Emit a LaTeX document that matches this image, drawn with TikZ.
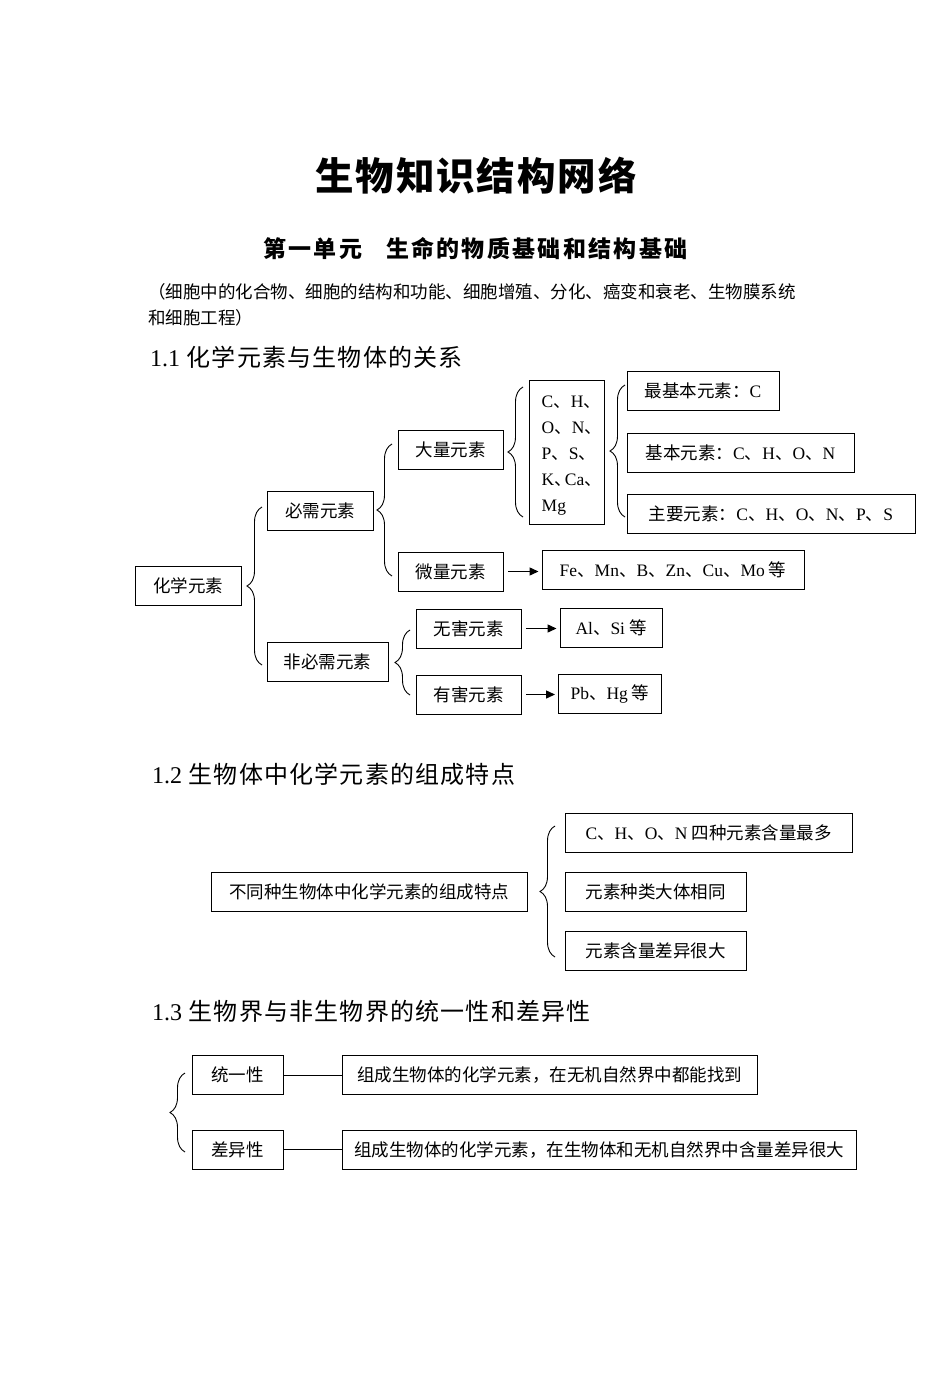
\documentclass[tikz,border=0pt]{standalone}
\usepackage{fontspec}
\setmainfont{Noto Sans CJK SC}
\newfontfamily\latf{Liberation Serif}
\newcommand\latn[1]{{\latf #1}}
\usetikzlibrary{arrows.meta,decorations.pathreplacing}
\tikzset{
  bx/.style={draw, line width=1pt, inner sep=0pt, minimum height=39pt,
    font=\fontsize{17.5}{21}\selectfont, anchor=center},
  arr/.style={line width=1.4pt, -{Triangle[length=9pt,width=8pt]},
    shorten <=4.5pt, shorten >=3pt},
  link/.style={line width=1pt},
  brc/.style={line width=0.9pt, decorate, decoration={brace, amplitude=15pt}},
  head/.style={anchor=west, inner sep=0pt,
    font=\fontsize{24}{28}\selectfont\addfontfeatures{LetterSpace=5}},
  plain/.style={inner sep=0pt},
}
\begin{document}
\begin{tikzpicture}[x=1pt,y=-1pt]
\useasboundingbox (0,0) rectangle (950,1378);

% titles
\node[plain, font=\fontsize{38.5}{40}\selectfont\bfseries\addfontfeatures{LetterSpace=5}] (title) at (476,176) {生物知识结构网络};
\node[plain, anchor=west, font=\fontsize{23}{26}\selectfont\bfseries\addfontfeatures{LetterSpace=10}] (sub) at (263,249) {第一单元\hspace{24pt}生命的物质基础和结构基础};
\node[plain, anchor=west, align=left, font=\fontsize{17.5}{26.5}\selectfont] (intro) at (148,305)
  {（细胞中的化合物、细胞的结构和功能、细胞增殖、分化、癌变和衰老、生物膜系统\\和细胞工程）};

% ---------- 1.1 ----------
\node[head] (h1) at (150,357) {\latn{1.1} 化学元素与生物体的关系};

\node[bx, minimum width=106pt] (hx) at (188,585.5) {化学元素};
\node[bx, minimum width=106pt] (bxy) at (320,510.5) {必需元素};
\node[bx, minimum width=121pt] (fbx) at (327.5,661.5) {非必需元素};
\node[bx, minimum width=105pt] (dl) at (450.5,449.5) {大量元素};
\node[bx, minimum width=105pt] (wl) at (450.5,571.5) {微量元素};
\node[bx, minimum width=105pt] (wh) at (468.5,628.5) {无害元素};
\node[bx, minimum width=105pt] (yh) at (468.5,694.5) {有害元素};
\node[bx, minimum width=75pt, minimum height=144pt] (chon) at (566.5,452) {};
\node[plain, anchor=west, align=left, font=\fontsize{17.5}{25.8}\selectfont] (chont) at (541.5,455.5)
  {\latn{C}、\latn{H}、\\\latn{O}、\latn{N}、\\\latn{P}、\latn{S}、\\\latn{K}、\hspace{-7pt}\latn{Ca}、\\\latn{Mg}};
\node[bx, minimum width=152pt] (zj) at (703,390.5) {最基本元素：\latn{C}};
\node[bx, minimum width=227pt] (jb) at (740.5,452.5) {基本元素：\latn{C}、\latn{H}、\latn{O}、\latn{N}};
\node[bx, minimum width=288pt] (zy) at (771,513.5) {主要元素：\latn{C}、\latn{H}、\latn{O}、\latn{N}、\latn{P}、\latn{S}};
\node[bx, minimum width=262pt] (fe) at (673,569.5) {\latn{Fe}、\latn{Mn}、\latn{B}、\latn{Zn}、\latn{Cu}、\latn{Mo} 等};
\node[bx, minimum width=102pt] (alsi) at (611,627.5) {\latn{Al}、\latn{Si} 等};
\node[bx, minimum width=103pt] (pbhg) at (610,694) {\latn{Pb}、\latn{Hg} 等};

\draw[brc] (262,665) -- (262,507);
\draw[brc] (392,576) -- (392,444);
\draw[brc] (523,517) -- (523,387);
\draw[brc] (625,517) -- (625,385);
\draw[brc] (410,695) -- (410,630);

\draw[arr] (wl.east) -- (wl.east -| fe.west);
\draw[arr] (wh.east) -- (wh.east -| alsi.west);
\draw[arr] (yh.east) -- (yh.east -| pbhg.west);

% ---------- 1.2 ----------
\node[head] (h2) at (152,774) {\latn{1.2} 生物体中化学元素的组成特点};

\node[bx, minimum width=316pt] (td) at (369,891.5) {不同种生物体中化学元素的组成特点};
\node[bx, minimum width=287pt] (c1) at (708.5,832.5) {\latn{C}、\latn{H}、\latn{O}、\latn{N} 四种元素含量最多};
\node[bx, minimum width=181pt] (c2) at (655.5,891.5) {元素种类大体相同};
\node[bx, minimum width=181pt] (c3) at (655.5,950.5) {元素含量差异很大};
\draw[brc] (555,957) -- (555,826);

% ---------- 1.3 ----------
\node[head] (h3) at (152,1011) {\latn{1.3} 生物界与非生物界的统一性和差异性};

\node[bx, minimum width=91pt] (ty) at (237.5,1075) {统一性};
\node[bx, minimum width=91pt] (cy) at (237.5,1149.5) {差异性};
\node[bx, minimum width=415pt] (t1) at (549.5,1074.5) {组成生物体的化学元素，在无机自然界中都能找到};
\node[bx, minimum width=514pt] (t2) at (599,1149.5) {组成生物体的化学元素，在生物体和无机自然界中含量差异很大};
\draw[link] (ty.east) -- (ty.east -| t1.west);
\draw[link] (cy.east) -- (cy.east -| t2.west);
\draw[brc] (185,1152) -- (185,1073);

\end{tikzpicture}
\end{document}
